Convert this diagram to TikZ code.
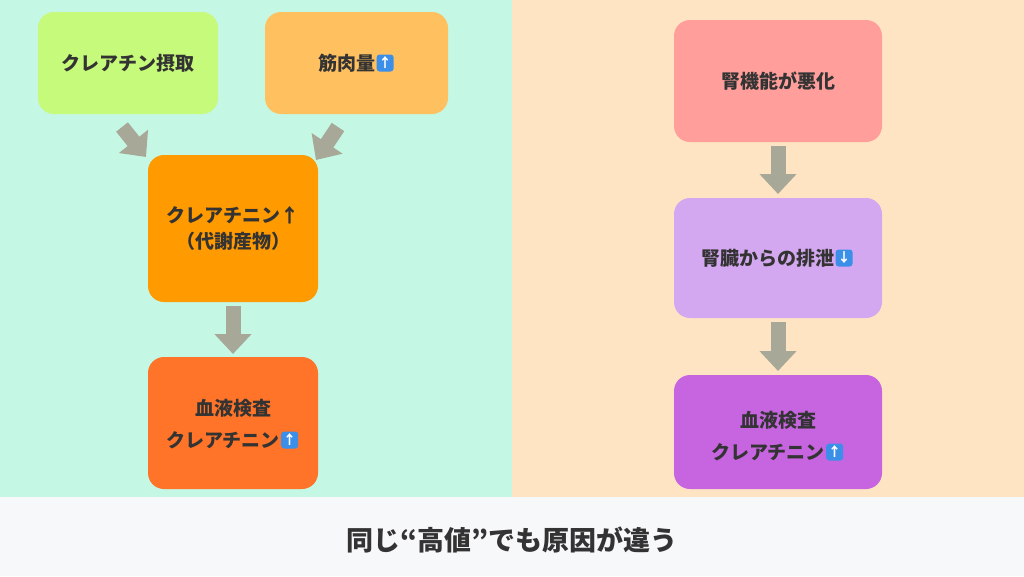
\documentclass[tikz,border=0pt]{standalone}
\usepackage{fontspec}
\setmainfont{Noto Sans CJK JP}
\usetikzlibrary{arrows.meta}
\definecolor{mint}{HTML}{C5F7E5}
\definecolor{cream}{HTML}{FFE4C4}
\definecolor{strip}{HTML}{F7F8FA}
\definecolor{txt}{HTML}{333333}
\definecolor{arr}{HTML}{A8A898}
\definecolor{cA}{HTML}{C6FA7A}
\definecolor{cB}{HTML}{FFC060}
\definecolor{cC}{HTML}{FF9A00}
\definecolor{cD}{HTML}{FF7428}
\definecolor{cE}{HTML}{FF9E9A}
\definecolor{cF}{HTML}{D4A8F0}
\definecolor{cG}{HTML}{C765E0}
\definecolor{iconblue}{HTML}{3B8FE8}
\begin{document}
\begin{tikzpicture}[x=1pt,y=-1pt,
  box/.style={rounded corners=16pt,inner sep=0pt},
  lbl/.style={font=\fontsize{19}{26}\selectfont\bfseries,text=txt,inner sep=0pt,align=center},
  icon/.style={fill=iconblue,rounded corners=3pt,minimum size=17pt,inner sep=0pt,text=white,font=\fontsize{13}{13}\selectfont\bfseries},
  bigarrow/.style={draw=arr,line width=15pt,-{Triangle[width=36pt,length=20pt]}}]
\useasboundingbox (0,0) rectangle (1024,576);
\fill[mint] (0,0) rectangle (512,497);
\fill[cream] (512,0) rectangle (1024,497);
\fill[strip] (0,497) rectangle (1024,576);
\node[lbl,font=\fontsize{27}{32}\selectfont\bfseries] (title) at (512,540) {同じ“高値”でも原因が違う};
% boxes
\fill[cA,box] (38,12) rectangle (218,114);
\fill[cB,box] (265,12) rectangle (448,114);
\fill[cC,box] (148,155) rectangle (318,302);
\fill[cD,box] (148,357) rectangle (318,489);
\fill[cE,box] (674,20) rectangle (882,142);
\fill[cF,box] (674,198) rectangle (882,318);
\fill[cG,box] (674,375) rectangle (882,489);
\node[lbl] (a) at (128,63) {クレアチン摂取};
\node[lbl,anchor=west] (b) at (318,63) {筋肉量};
\node[icon,anchor=west] (bi) at ([xshift=1pt]b.east) {↑};
\node[lbl] (c) at (233,228) {クレアチニン↑\\（代謝産物）};
\node[lbl] (d1) at (233,408) {血液検査};
\node[lbl,anchor=west] (d2) at (166,440) {クレアチニン};
\node[icon,anchor=west] (di) at ([xshift=1pt]d2.east) {↑};
\node[lbl] (e) at (778,81) {腎機能が悪化};
\node[lbl,anchor=west] (f) at (701,258) {腎臓からの排泄};
\node[icon,anchor=west] (fi) at ([xshift=1pt]f.east) {↓};
\node[lbl] (g1) at (778,420) {血液検査};
\node[lbl,anchor=west] (g2) at (711,452) {クレアチニン};
\node[icon,anchor=west] (gi) at ([xshift=1pt]g2.east) {↑};
% arrows
\coordinate (p1) at (122,127); \coordinate (q1) at (146,157);
\coordinate (p2) at (338,127); \coordinate (q2) at (316,160);
\coordinate (p3) at (233,306); \coordinate (q3) at (233,354);
\coordinate (p4) at (778,146); \coordinate (q4) at (778,194);
\coordinate (p5) at (778,322); \coordinate (q5) at (778,371);
\draw[bigarrow] (p1) -- (q1);
\draw[bigarrow] (p2) -- (q2);
\draw[bigarrow] (p3) -- (q3);
\draw[bigarrow] (p4) -- (q4);
\draw[bigarrow] (p5) -- (q5);
\end{tikzpicture}
\end{document}
